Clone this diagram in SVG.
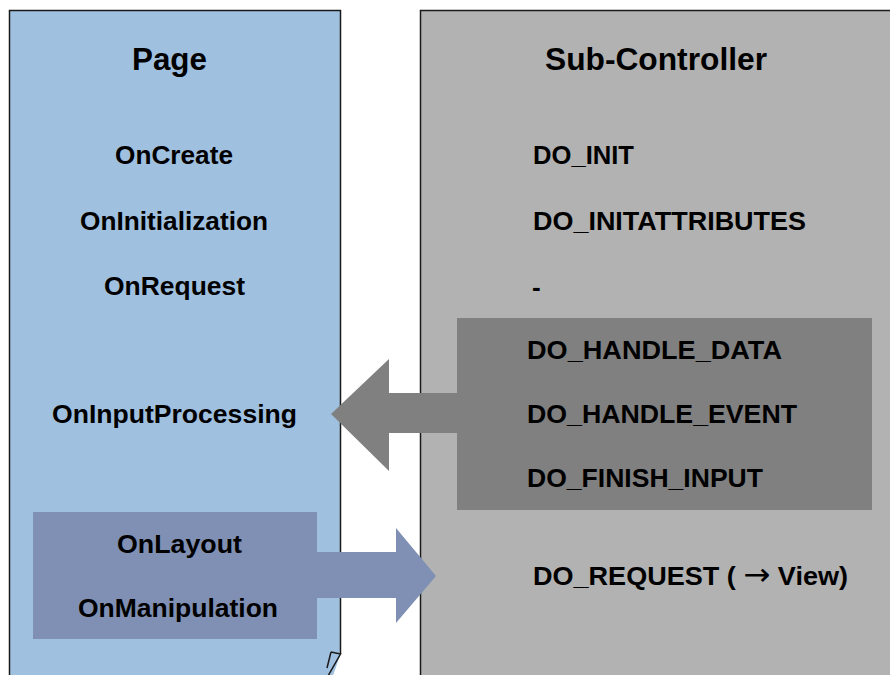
<svg xmlns="http://www.w3.org/2000/svg" width="890" height="675" viewBox="0 0 890 675">
  <style>
    .frame { stroke: #1a1a1a; stroke-width: 1.5; }
    .title { font-family: "Liberation Sans", Arial, sans-serif; font-weight: bold; font-size: 31px; fill: #000; }
    .item { font-family: "Liberation Sans", Arial, sans-serif; font-weight: bold; font-size: 26px; fill: #000; }
    .sym { font-family: "DejaVu Sans", sans-serif; font-weight: normal; font-size: 31px; }
  </style>
  <rect width="890" height="675" fill="#ffffff"/>

  <!-- Page column with turned-up corner at the bottom right -->
  <g id="page">
    <path d="M9.5,690 V10.5 H340.5 V654 L328,690 Z" fill="#a0c0e0"/>
    <path class="frame" d="M9.5,690 V10.5 H340.5 V654" fill="none"/>
    <path class="frame" d="M331,652 L340.5,654 L328,676 M331,652 L327,668" fill="none" stroke-width="1.2"/>
    <text class="title" x="132" y="70" textLength="75" lengthAdjust="spacingAndGlyphs">Page</text>
    <text class="item" x="115" y="164" textLength="118" lengthAdjust="spacingAndGlyphs">OnCreate</text>
    <text class="item" x="80" y="230" textLength="188" lengthAdjust="spacingAndGlyphs">OnInitialization</text>
    <text class="item" x="104" y="295" textLength="141" lengthAdjust="spacingAndGlyphs">OnRequest</text>
    <text class="item" x="52" y="423" textLength="245" lengthAdjust="spacingAndGlyphs">OnInputProcessing</text>
  </g>

  <!-- Sub-Controller column -->
  <g id="sub-controller">
    <rect class="frame" x="420.5" y="10.5" width="490" height="700" fill="#b2b2b2"/>
    <text class="title" x="545" y="70" textLength="222" lengthAdjust="spacingAndGlyphs">Sub-Controller</text>
    <text class="item" x="533" y="164" textLength="101" lengthAdjust="spacingAndGlyphs">DO_INIT</text>
    <text class="item" x="533" y="230" textLength="273" lengthAdjust="spacingAndGlyphs">DO_INITATTRIBUTES</text>
    <text class="item" x="532" y="296">-</text>
    <text class="item" x="533" y="585" textLength="315" lengthAdjust="spacingAndGlyphs">DO_REQUEST ( <tspan class="sym">→</tspan> View)</text>
  </g>

  <!-- Input handling block inside the Sub-Controller -->
  <g id="input-handling">
    <rect x="457" y="318" width="415" height="192" fill="#808080"/>
    <text class="item" x="527" y="359" textLength="255" lengthAdjust="spacingAndGlyphs">DO_HANDLE_DATA</text>
    <text class="item" x="527" y="423" textLength="270" lengthAdjust="spacingAndGlyphs">DO_HANDLE_EVENT</text>
    <text class="item" x="527" y="487" textLength="236" lengthAdjust="spacingAndGlyphs">DO_FINISH_INPUT</text>
  </g>

  <!-- Layout block inside the Page -->
  <g id="layout-block">
    <rect x="33" y="512" width="284" height="127" fill="#7f90b4"/>
    <text class="item" x="117" y="553" textLength="125" lengthAdjust="spacingAndGlyphs">OnLayout</text>
    <text class="item" x="78" y="617" textLength="200" lengthAdjust="spacingAndGlyphs">OnManipulation</text>
  </g>

  <!-- Block arrows between the columns -->
  <g id="connectors">
    <polygon points="458,393 389,393 389,359 331,414 389,471 389,433 458,433" fill="#808080"/>
    <polygon points="316,552 396,552 396,528 436,576 396,623 396,598 316,598" fill="#7f90b4"/>
  </g>
</svg>
